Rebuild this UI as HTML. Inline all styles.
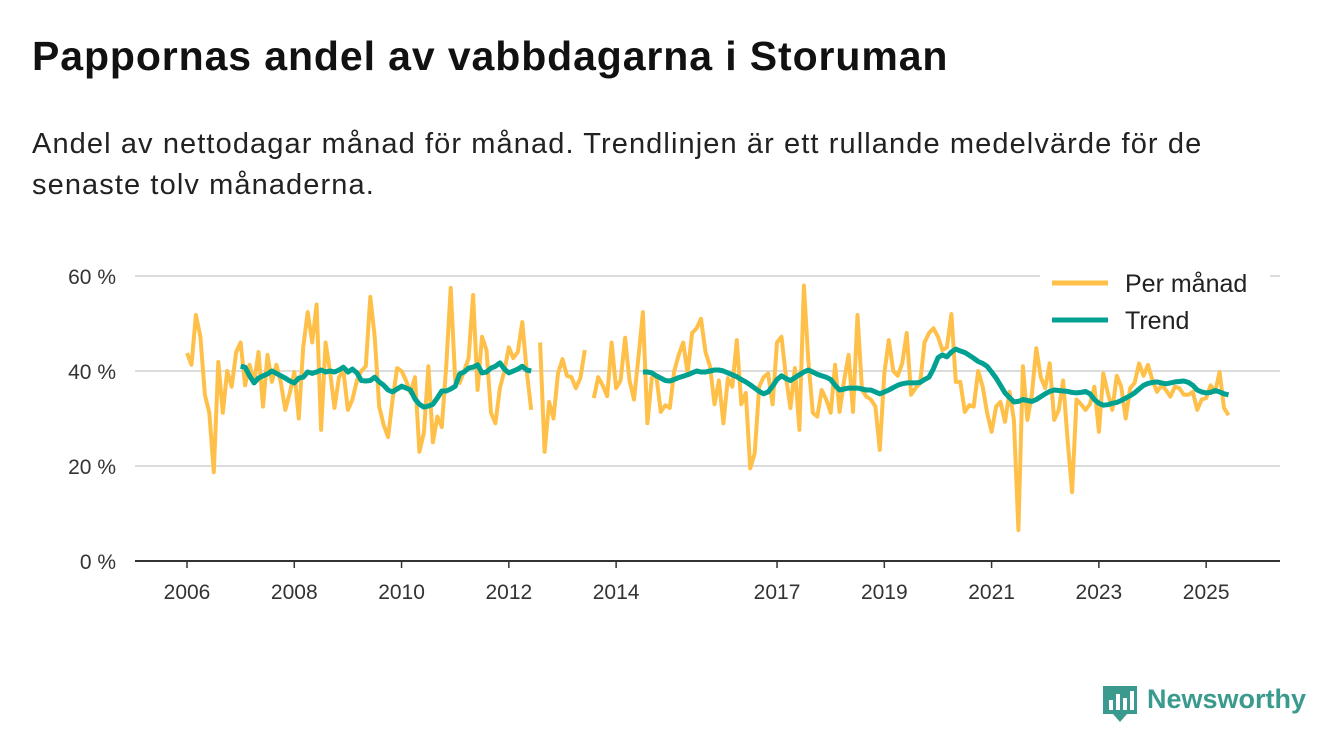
<!DOCTYPE html>
<html><head><meta charset="utf-8">
<style>
body{margin:0;background:#fff;font-family:"Liberation Sans",sans-serif;}
#wrap{position:relative;width:1340px;height:753px;overflow:hidden;}
h1{position:absolute;left:32px;top:33px;margin:0;font-size:41px;letter-spacing:0.9px;font-weight:bold;color:#111;}
p.sub{position:absolute;left:32px;top:124px;margin:0;font-size:29px;letter-spacing:1.1px;line-height:41px;color:#222;width:1262px;}
svg{position:absolute;left:0;top:0;}
</style></head><body>
<div id="wrap">
<h1>Pappornas andel av vabbdagarna i Storuman</h1>
<p class="sub">Andel av nettodagar månad för månad. Trendlinjen är ett rullande medelvärde för de senaste tolv månaderna.</p>
<svg id="chart" width="1340" height="753"></svg>
</div>
<script>
const startYear = 2006;
const yTicks = [0, 20, 40, 60];
const yTickLabels = ["0 %", "20 %", "40 %", "60 %"];
const xTickYears = [2006, 2008, 2010, 2012, 2014, 2017, 2019, 2021, 2023, 2025];
const monthly = [
43.8,41.3,51.8,47.2,35,31.2,18.7,41.9,31.2,40,36.7,44,
46,37,41.3,37.5,44,32.5,43.4,37.7,41.3,37.5,31.8,35.4,
39.8,30,45,52.4,46,54,27.6,46,40,32.2,38.7,40,
31.8,34,38,40,41,55.6,47.2,32.5,28.6,26.1,34,40.6,
40,38,35.4,38.7,23,27,41,25,30.4,28.2,41.3,57.5,
38,37.5,40,42.7,56,36,47.2,44.4,31.2,29,36.4,40,
45,42.7,44,50.3,40,31.8,null,46,23,33.5,30,39.5,
42.5,39,38.7,36.4,38.5,44.4,null,34.3,38.7,37,34.7,46,
36.4,38,47,38,34,43,52.4,29,38.7,39,31.4,32.8,
32.2,40,43.4,46,39.5,48,49,51,44,41,33,38,
29,38.5,36.7,46.5,33,35.4,19.5,22.7,36.7,38.7,39.5,33,
46,47.2,38.7,32.2,40.6,27.6,58,42.3,31.2,30.4,36,34,
31.2,41.3,31.4,38,43.4,31.4,51.8,36,34.6,34,32.5,23.4,
39.5,46.5,40,39,41.6,48,35,36.4,37.5,46,48,49,
47.2,44.4,45,52,37.7,37.7,31.4,32.8,32.5,40,36.7,31.2,
27.2,32.5,33.5,29.3,35.6,29.7,6.5,41,29.7,35,44.8,38.7,
36.4,41.6,29.7,31.8,38,25.5,14.5,34,33,31.8,33,36.7,
27.2,39.5,35.4,31.8,39,36.7,30,36.4,37.5,41.6,39,41.3,
38,35.6,37,36,34.6,36.7,36.4,35,35,35.6,31.8,34,
34.3,37,35.6,39.8,32.2,30.7
];
const trendStart1 = 12;
const trend1 = [
41,40.8,39,37.5,38.5,39,39.4,40,39.5,39,38.5,37.9,
37.5,38.5,38.7,39.8,39.5,39.8,40.2,39.8,40,39.8,40.2,40.8,
39.8,40.4,39.6,38,37.9,38,38.7,37.7,37,36,35.6,36.2,
36.8,36.4,36,34.1,33,32.4,32.6,33,34.3,35.8,35.8,36.2,
36.8,39.4,39.8,40.6,40.8,41.3,39.6,39.8,40.6,41,41.7,40.4,
39.6,40,40.4,41,40.2,40
];
const trendStart2 = 102;
const trend2 = [
39.8,39.8,39.6,39,38.5,38,37.9,38.2,38.6,38.9,39.2,39.6,
40,39.8,39.8,40,40.2,40.2,40,39.6,39.2,38.8,38.2,37.7,
37.1,36.4,35.7,35.2,35.6,36.8,38.2,39,38.4,38,38.6,39.2,
39.8,40.2,39.8,39.3,39,38.7,38.2,37,36,36.2,36.4,36.4,
36.4,36.2,36,36,35.6,35.2,35.6,36,36.5,37,37.3,37.5,
37.5,37.5,37.6,38.2,38.7,40.5,42.8,43.4,43,44,44.6,44.2,
43.9,43.3,42.7,42,41.6,41,39.8,38.5,37,35.4,34.4,33.5,
33.6,34,33.8,33.6,34,34.6,35.2,35.7,36,35.9,35.8,35.7,
35.5,35.4,35.5,35.7,35.2,34,33.2,32.8,32.9,33.2,33.4,33.8,
34.3,34.8,35.4,36.2,37,37.4,37.6,37.7,37.5,37.3,37.5,37.7,
37.8,37.9,37.6,37,36,35.6,35.4,35.5,35.9,35.6,35.2,35
];

const NS = "http://www.w3.org/2000/svg";
const svg = document.getElementById('chart');
const X0 = 187, PX_PER_MONTH = 4.47;
const xScale = m => X0 + m * PX_PER_MONTH;
const yScale = v => 561 - v * 4.75;
function mk(tag, attrs){const e=document.createElementNS(NS,tag);for(const k in attrs)e.setAttribute(k,attrs[k]);svg.appendChild(e);return e;}

yTicks.forEach((t,i)=>{
  if(t>0){const g=mk('line',{x1:135,x2:1280,y1:yScale(t),y2:yScale(t),stroke:'#dcdcdc','stroke-width':2});
  
  }
  const tx=mk('text',{x:116,y:yScale(t)+8,'text-anchor':'end','font-size':21,fill:'#333','font-family':'Liberation Sans, sans-serif'});
  tx.textContent=yTickLabels[i];
  
  
});
const ax=mk('line',{x1:135,x2:1280,y1:561,y2:561,stroke:'#333','stroke-width':2});


xTickYears.forEach(yr=>{
  const x=xScale((yr-startYear)*12);
  const tk=mk('line',{x1:x,x2:x,y1:561,y2:568,stroke:'#333','stroke-width':1.5});
  
  
  const tx=mk('text',{x:x,y:599,'text-anchor':'middle','font-size':21,fill:'#333','font-family':'Liberation Sans, sans-serif'});
  tx.textContent=String(yr);
  
  
});

function pathFrom(vals,start){
  let d='',pen=false;
  vals.forEach((v,i)=>{
    if(v===null){pen=false;return;}
    d+=(pen?'L':'M')+xScale(start+i).toFixed(1)+' '+yScale(v).toFixed(1);
    pen=true;
  });
  return d;
}
const mp=mk('path',{d:pathFrom(monthly,0),fill:'none',stroke:'#FFC04A','stroke-width':4,'stroke-linejoin':'round'});


const t1=mk('path',{d:pathFrom(trend1,trendStart1),fill:'none',stroke:'#00A191','stroke-width':5,'stroke-linejoin':'round'});


const t2=mk('path',{d:pathFrom(trend2,trendStart2),fill:'none',stroke:'#00A191','stroke-width':5,'stroke-linejoin':'round'});



// legend
const lb=mk('rect',{x:1040,y:262,width:230,height:80,fill:'#fff'});


const l1=mk('line',{x1:1052,x2:1108,y1:283,y2:283,stroke:'#FFC04A','stroke-width':5});


const lt1=mk('text',{x:1125,y:292,'font-size':25,fill:'#222','font-family':'Liberation Sans, sans-serif'});
lt1.textContent='Per månad';


const l2=mk('line',{x1:1052,x2:1108,y1:320,y2:320,stroke:'#00A191','stroke-width':5});


const lt2=mk('text',{x:1125,y:329,'font-size':25,fill:'#222','font-family':'Liberation Sans, sans-serif'});
lt2.textContent='Trend';



// logo
const lg=mk('path',{d:'M1103 686 h34 v28 h-10 l-7 8 l-7 -8 h-10 z',fill:'#3a9a8e'});


[[1109,700,4,10],[1116,694,4,16],[1123,698,4,12],[1130,691,4,19]].forEach(b=>{
  const r=mk('rect',{x:b[0],y:b[1],width:b[2],height:b[3],fill:'#fff'});
  
  
});
const lt=mk('text',{x:1147,y:708,'font-size':27,'font-weight':'bold',fill:'#3a9a8e','font-family':'Liberation Sans, sans-serif'});
lt.textContent='Newsworthy';


</script>
</body></html>
